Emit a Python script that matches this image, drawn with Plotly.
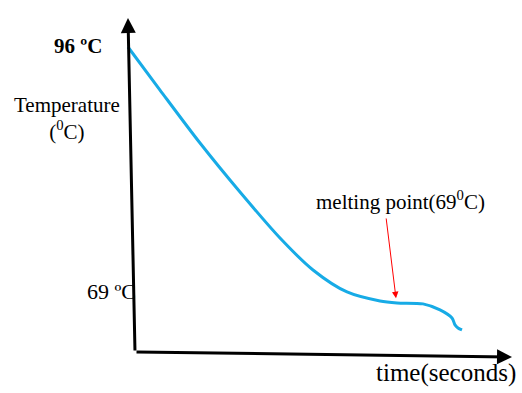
import plotly.graph_objects as go

# Cooling curve values
time_s = [0, 3.2, 7.2, 11.2, 15.2, 18.5, 21.9, 25.2, 26.9, 29.5, 31.2, 32.4, 32.7, 33.0, 33.4]
temp_c = [96, 91.46, 85.87, 80.70, 75.85, 72.48, 70.16, 69.21, 69.0, 68.9, 68.27, 67.42, 66.68, 66.36, 66.15]

start_label = "96 ºC"
melt_label = "69 ºC"
melt_temp = 69
melt_time = 26.8
y_title = "Temperature<br>(<sup>0</sup>C)"
x_title = "time(seconds)"
note = "melting point(69<sup>0</sup>C)"

FONT = "Liberation Serif, Times New Roman, serif"

fig = go.Figure()
fig.add_trace(go.Scatter(
    x=time_s, y=temp_c, mode="lines",
    line=dict(color="#17ABE6", width=3, shape="spline", smoothing=0.8),
    hoverinfo="skip", showlegend=False,
))

ann = []
# y axis (slightly slanted) with arrow at top
ann.append(dict(x=0, y=99.06, ax=0.7, ay=63.83, xref="x", yref="y", axref="x", ayref="y",
                showarrow=True, arrowhead=2, arrowsize=1, arrowwidth=3, arrowcolor="black", text=""))
# x axis with arrow at right
ann.append(dict(x=38.4, y=63.30, ax=0.7, ay=63.83, xref="x", yref="y", axref="x", ayref="y",
                showarrow=True, arrowhead=2, arrowsize=1, arrowwidth=3, arrowcolor="black", text=""))
# red pointer to the plateau
ann.append(dict(x=melt_time, y=melt_temp + 0.5, ax=25.8, ay=78.07, xref="x", yref="y", axref="x", ayref="y",
                showarrow=True, arrowhead=2, arrowsize=1.3, arrowwidth=1, arrowcolor="red", text=""))

ann.append(dict(x=-2.4, y=96.11, xref="x", yref="y", text="<b>" + start_label + "</b>", showarrow=False,
                xanchor="right", yanchor="middle", font=dict(family=FONT, size=21, color="black")))
ann.append(dict(x=1.0, y=70.16, xref="x", yref="y", text=melt_label, showarrow=False,
                xanchor="right", yanchor="middle", font=dict(family=FONT, size=22, color="black")))
ann.append(dict(x=-6.1, y=88.51, xref="x", yref="y", text=y_title, showarrow=False,
                xanchor="center", yanchor="middle", font=dict(family=FONT, size=21, color="black")))
ann.append(dict(x=27.2, y=79.86, xref="x", yref="y", text=note, showarrow=False,
                xanchor="center", yanchor="middle", font=dict(family=FONT, size=21, color="black")))
ann.append(dict(x=39.0, y=61.61, xref="x", yref="y", text=x_title, showarrow=False,
                xanchor="right", yanchor="middle", font=dict(family=FONT, size=25, color="black")))

fig.update_layout(
    width=522, height=393,
    margin=dict(l=0, r=0, t=0, b=0),
    paper_bgcolor="white", plot_bgcolor="white",
    xaxis=dict(range=[-12.8, 39.4], visible=False, fixedrange=True),
    yaxis=dict(range=[59.50, 100.96], visible=False, fixedrange=True),
    annotations=ann,
)

fig.write_html("out.html", config={"displayModeBar": False},
               post_script="document.body.style.margin='0';document.body.style.overflow='hidden';")
